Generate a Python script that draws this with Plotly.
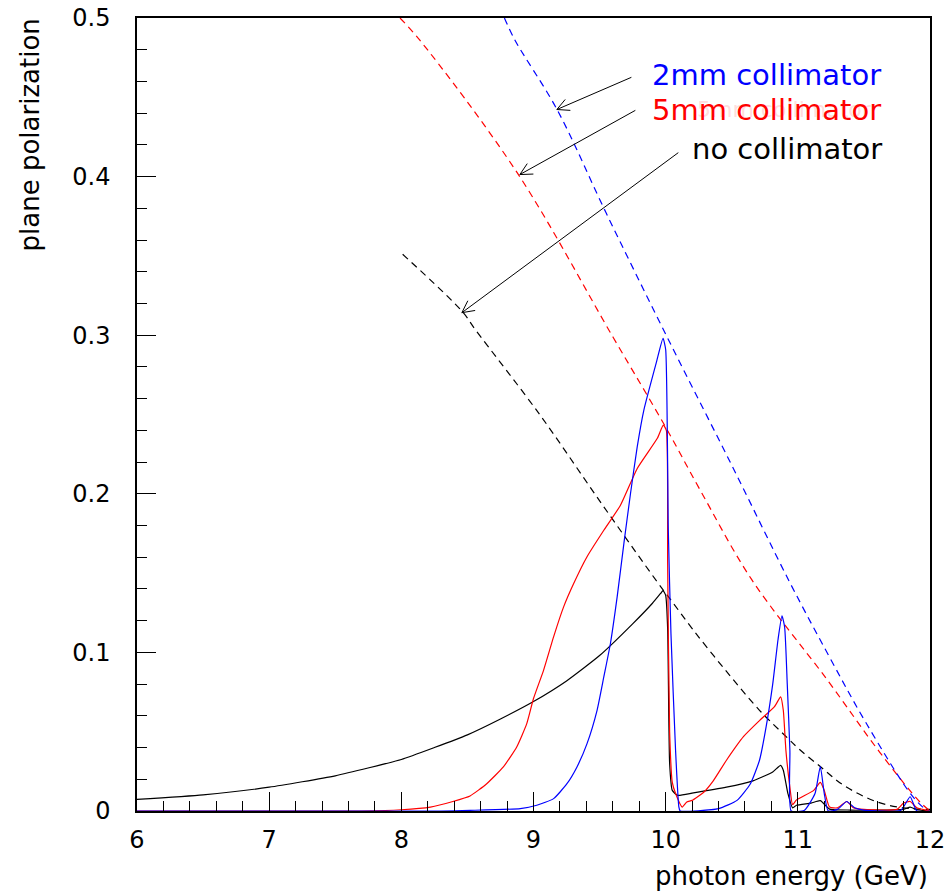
import math
import plotly.graph_objects as go

# ---------------- data ----------------
# solid curves
x_none = [6.0, 6.5, 7.0, 7.5, 8.0, 8.25, 8.5, 8.75, 9.0, 9.25, 9.5, 9.75, 9.9, 9.96, 9.98, 10.0, 10.015,
          10.03, 10.05, 10.09, 10.21, 10.46, 10.66, 10.81, 10.87, 10.89, 10.925, 10.96, 10.99, 11.1, 11.17, 11.24,
          11.4, 11.6, 11.8, 11.85, 11.9, 12.0]
y_none = [0.0073, 0.0102, 0.0150, 0.0222, 0.0325, 0.040, 0.048, 0.058, 0.069, 0.082, 0.098, 0.118, 0.131, 0.137,
          0.139, 0.136, 0.115, 0.03, 0.013, 0.0099, 0.0114, 0.015, 0.019, 0.0246, 0.0288,
          0.0257, 0.011, 0.002, 0.0036, 0.005, 0.0065, 0.0012, 0.0006, 0.0005, 0.001, 0.0025, 0.0008, 0.0]

x_5mm = [6.0, 7.7, 8.0, 8.22, 8.39, 8.52, 8.646, 8.772, 8.873, 8.949, 9.0, 9.076, 9.152, 9.228, 9.304, 9.405, 9.532,
         9.658, 9.785, 9.937, 9.982, 10.005, 10.015, 10.03, 10.05, 10.075, 10.125, 10.16, 10.2, 10.29, 10.36, 10.46,
         10.59, 10.71, 10.825, 10.87, 10.89, 10.91, 10.94, 10.96, 10.99, 11.12, 11.17, 11.2, 11.24, 11.3, 11.37,
         11.42, 11.5, 11.75, 11.8, 11.85, 11.9, 12.0]
y_5mm = [0.0, 0.0, 0.0008, 0.0025, 0.006, 0.0095, 0.0172, 0.0278, 0.0404, 0.0551, 0.0709, 0.0887, 0.1098, 0.1287,
         0.1434, 0.1603, 0.177, 0.1928, 0.216, 0.235, 0.2433, 0.240, 0.156, 0.05, 0.018, 0.011, 0.0025, 0.0057,
         0.0067, 0.012, 0.019, 0.032, 0.047, 0.057, 0.066, 0.072, 0.0635, 0.038, 0.015, 0.004, 0.007, 0.013, 0.018,
         0.013, 0.0025, 0.002, 0.006, 0.002, 0.001, 0.001, 0.005, 0.006, 0.002, 0.0]

x_2mm = [6.0, 8.3, 8.52, 8.9, 9.025, 9.152, 9.253, 9.329, 9.405, 9.481, 9.532, 9.582, 9.633, 9.684, 9.734, 9.785,
         9.835, 9.93, 9.98, 10.0, 10.02, 10.04, 10.075, 10.1, 10.11, 10.4, 10.54, 10.64, 10.71, 10.76, 10.81, 10.85,
         10.88, 10.9, 10.92, 10.94, 10.95, 11.05, 11.13, 11.17, 11.2, 11.23, 11.3, 11.37, 11.43, 11.5, 11.78, 11.85,
         11.9, 12.0]
y_2mm = [0.0, 0.0, 0.0004, 0.0015, 0.0036, 0.0078, 0.0172, 0.0278, 0.0425, 0.0635, 0.0845, 0.1056, 0.135, 0.1687,
         0.2002, 0.2297, 0.2528, 0.283, 0.298, 0.291, 0.177, 0.112, 0.038, 0.0025, 0.0, 0.0015, 0.0067, 0.017,
         0.032, 0.053, 0.080, 0.108, 0.123, 0.116, 0.080, 0.038, 0.0, 0.0005, 0.011, 0.028, 0.011, 0.0, 0.001,
         0.006, 0.002, 0.0005, 0.0005, 0.009, 0.0, 0.0]

# dashed (maximum) curves
xd_none = [8.01, 8.46, 8.56, 9.05, 9.53, 9.975, 10.04, 10.21, 10.46, 10.71, 10.91, 11.01, 11.17, 11.35, 11.6,
           11.8, 12.0]
yd_none = [0.351, 0.315, 0.3035, 0.2496, 0.192, 0.140, 0.133, 0.114, 0.088, 0.0635, 0.047, 0.039, 0.028, 0.016,
           0.0057, 0.002, 0.001]

xd_5mm = [7.99, 8.14, 8.88, 9.60, 10.0, 10.26, 10.65, 11.22, 11.62, 11.92, 12.0]
yd_5mm = [0.5, 0.486, 0.402, 0.299, 0.242, 0.2025, 0.146, 0.083, 0.037, 0.006, 0.0]

xd_2mm = [8.78, 8.86, 9.18, 9.55, 10.01, 10.5, 10.94, 11.24, 11.52, 11.87, 11.98]
yd_2mm = [0.5, 0.486, 0.442, 0.377, 0.299, 0.218, 0.144, 0.097, 0.055, 0.009, 0.0]

labels = ["2mm collimator", "5mm collimator", "no collimator"]
colors = ["#0000ff", "#ff0000", "#000000"]

FONT = "DejaVu Sans"
X0, X1, Y0, Y1 = 6, 12, 0, 0.5
ML, MR, MT, MB = 137, 21, 18, 83
W, H = 951, 894
PW, PH = W - ML - MR, H - MT - MB

fig = go.Figure()

for xs, ys, c in [(xd_none, yd_none, colors[2]), (xd_5mm, yd_5mm, colors[1]), (xd_2mm, yd_2mm, colors[0])]:
    fig.add_trace(go.Scatter(x=xs, y=ys, mode="lines", line=dict(color=c, width=1.2, dash="7px,5px"),
                             line_shape="spline", showlegend=False, hoverinfo="skip"))

for xs, ys, c in [(x_none, y_none, colors[2]), (x_5mm, y_5mm, colors[1]), (x_2mm, y_2mm, colors[0])]:
    fig.add_trace(go.Scatter(x=xs, y=ys, mode="lines", line=dict(color=c, width=1.2, smoothing=0.5),
                             line_shape="spline", showlegend=False, hoverinfo="skip"))

# labels
fig.add_annotation(x=9.88, y=0.464, text=labels[0], showarrow=False, xanchor="left", yanchor="middle",
                   font=dict(family=FONT, size=29, color=colors[0]))
fig.add_annotation(x=10.22, y=0.4423, text=labels[1], showarrow=False, xanchor="left", yanchor="middle",
                   font=dict(family=FONT, size=22, color="rgba(255,140,140,0.3)"))
fig.add_annotation(x=9.88, y=0.4423, text=labels[1], showarrow=False, xanchor="left", yanchor="middle",
                   font=dict(family=FONT, size=29, color=colors[1]))
fig.add_annotation(x=10.183, y=0.4177, text=labels[2], showarrow=False, xanchor="left", yanchor="middle",
                   font=dict(family=FONT, size=29, color=colors[2]))

# arrows with open V heads
arrows = [((9.752, 0.463), (9.177, 0.4423)),
          ((9.782, 0.4423), (8.897, 0.4013)),
          ((10.107, 0.4158), (8.458, 0.3142))]
sx, sy = PW / (X1 - X0), PH / (Y1 - Y0)
for (tx, ty), (hx, hy) in arrows:
    fig.add_annotation(x=hx, y=hy, ax=tx, ay=ty, axref="x", ayref="y", xref="x", yref="y", text="",
                       showarrow=True, arrowhead=0, arrowwidth=1, arrowcolor="black")
    dx, dy = (tx - hx) * sx, -(ty - hy) * sy
    ang = math.atan2(dy, dx)
    for da in (math.radians(27), -math.radians(27)):
        bx, by = 15 * math.cos(ang + da), 15 * math.sin(ang + da)
        fig.add_annotation(x=hx, y=hy, ax=bx, ay=by, xref="x", yref="y", text="", showarrow=True,
                           arrowhead=0, arrowwidth=1, arrowcolor="black")

# axis titles (ROOT style, aligned to axis ends)
fig.add_annotation(xref="paper", yref="paper", x=(930 - ML) / PW, y=(811 - 876) / PH, text="photon energy (GeV)",
                   showarrow=False, xanchor="right", yanchor="middle",
                   font=dict(family=FONT, size=26, color="black"))
fig.add_annotation(xref="paper", yref="paper", x=(30 - ML) / PW, y=(811 - 17) / PH, text="plane polarization",
                   showarrow=False, textangle=-90, xanchor="center", yanchor="top",
                   font=dict(family=FONT, size=26, color="black"))

fig.update_xaxes(range=[X0, X1], tickmode="array", tickvals=[6, 7, 8, 9, 10, 11, 12],
                 ticktext=["6", "7", "8", "9", "10", "11", "12"], automargin=False,
                 ticks="inside", ticklen=19, tickwidth=1, tickcolor="black",
                 minor=dict(dtick=0.2, ticks="inside", ticklen=10, tickwidth=1, tickcolor="black"),
                 showline=True, linecolor="black", linewidth=1.5, mirror=True, showgrid=False, zeroline=False,
                 tickfont=dict(family=FONT, size=24, color="black"), ticklabelstandoff=6)
fig.update_yaxes(range=[Y0, Y1], tickmode="array", tickvals=[0, 0.1, 0.2, 0.3, 0.4, 0.5],
                 ticktext=["0", "0.1", "0.2", "0.3", "0.4", "0.5"], automargin=False,
                 ticks="inside", ticklen=19, tickwidth=1, tickcolor="black",
                 minor=dict(dtick=0.02, ticks="inside", ticklen=10, tickwidth=1, tickcolor="black"),
                 showline=True, linecolor="black", linewidth=1.5, mirror=True, showgrid=False, zeroline=False,
                 tickfont=dict(family=FONT, size=24, color="black"), ticklabelstandoff=20)

fig.update_layout(width=W, height=H, margin=dict(l=ML, r=MR, t=MT, b=MB),
                  paper_bgcolor="white", plot_bgcolor="white", showlegend=False)

fig.write_html("out.html")
